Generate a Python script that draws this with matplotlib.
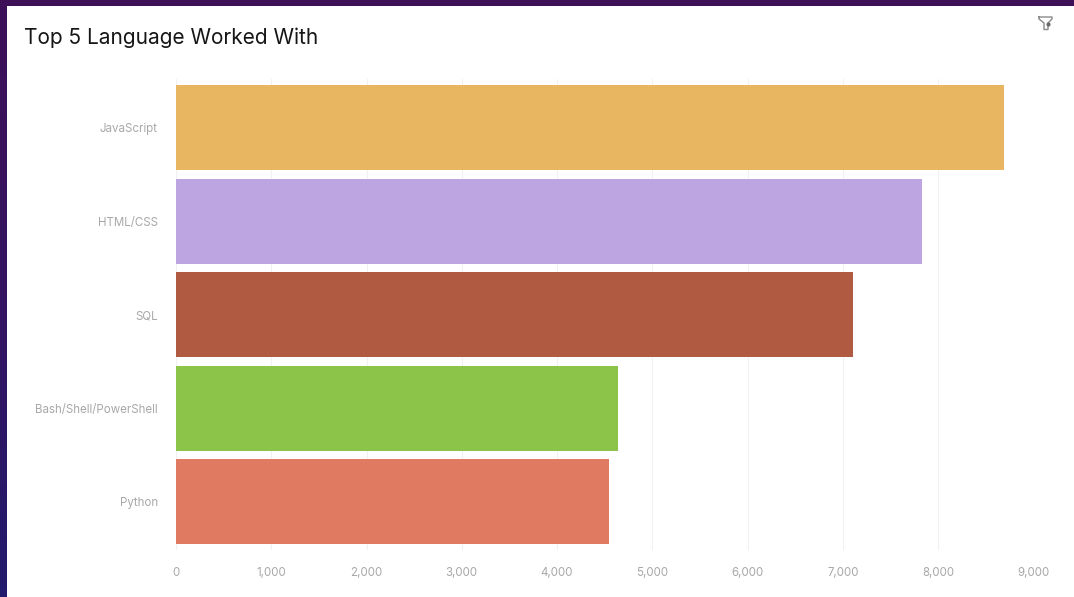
import numpy as np
import matplotlib
matplotlib.use('Agg')
import matplotlib.pyplot as plt
from matplotlib.colors import LinearSegmentedColormap
from matplotlib.patches import Rectangle

languages = ['JavaScript', 'HTML/CSS', 'SQL', 'Bash/Shell/PowerShell', 'Python']
counts = [8687, 7830, 7105, 4640, 4542]
bar_colors = ['#e8b560', '#bda5e2', '#b05a42', '#8cc349', '#e07b61']
x_ticks = [0, 1000, 2000, 3000, 4000, 5000, 6000, 7000, 8000, 9000]

W, H = 1074, 597

plt.rcParams['font.family'] = ['Inter', 'DejaVu Sans']

fig = plt.figure(figsize=(W / 100, H / 100), dpi=100)

# page background behind the white card
bg = fig.add_axes([0, 0, 1, 1], zorder=0)
bg_cmap = LinearSegmentedColormap.from_list('page', ['#3d1058', '#351462', '#221a6c'])
bg.imshow(np.linspace(0, 1, 64).reshape(-1, 1), aspect='auto', cmap=bg_cmap, extent=[0, W, H, 0])
bg.add_patch(Rectangle((7, 6), W - 7, H - 6, facecolor='white', edgecolor='none'))
bg.set_xlim(0, W)
bg.set_ylim(H, 0)
bg.axis('off')

# filter icon, top right
bg.plot([1039, 1052, 1052, 1048, 1048, 1044, 1044, 1039, 1039],
        [17, 17, 19, 23, 29.5, 29.5, 23, 19, 17],
        color='#8a8a8a', lw=1.0, solid_joinstyle='round')
bg.plot([1047.5], [23.5], marker='o', ms=2, color='#6a6a6a')

bg.text(24, 37.5, 'Top 5 Language Worked With', fontsize=15, color='#161616',
        va='center', ha='left')

# plot area in pixels: x 176..1033.5, y 79..550
ax = fig.add_axes([176 / W, 1 - 550 / H, (1033.5 - 176) / W, 471 / H], zorder=1)
ax.patch.set_alpha(0)
y = np.arange(len(languages))
ax.barh(y, counts, height=0.908, color=bar_colors, zorder=3)
ax.set_xlim(0, 9000)
ax.set_ylim(4.513, -0.518)
ax.set_xticks(x_ticks)
ax.set_xticklabels([f'{t:,}' for t in x_ticks])
ax.set_yticks(y)
ax.set_yticklabels(languages)
ax.grid(axis='x', color='#f1f1f1', lw=0.8, zorder=0)
ax.set_axisbelow(True)
ax.tick_params(axis='both', length=0, labelsize=8.3, labelcolor='#a8a8a8')
ax.tick_params(axis='x', pad=12)
ax.tick_params(axis='y', pad=13)
for s in ax.spines.values():
    s.set_visible(False)

fig.savefig('out.png', dpi=100)
